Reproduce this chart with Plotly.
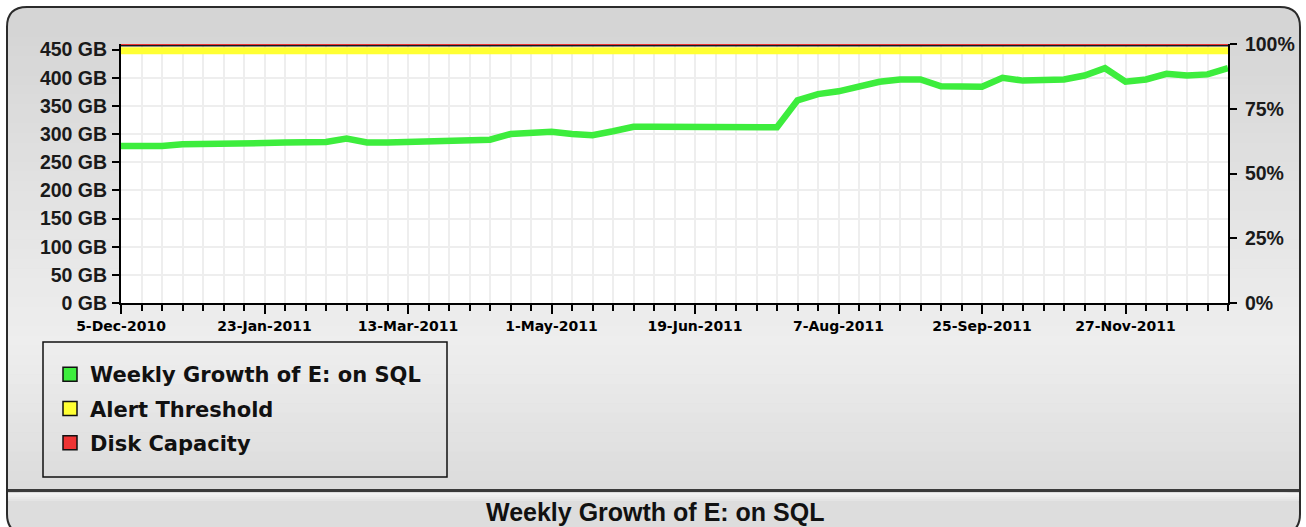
import plotly.graph_objects as go

# ---- data -------------------------------------------------------------
weeks = [
    "5-Dec-2010", "12-Dec-2010", "19-Dec-2010", "26-Dec-2010", "2-Jan-2011",
    "9-Jan-2011", "16-Jan-2011", "23-Jan-2011", "30-Jan-2011", "6-Feb-2011",
    "13-Feb-2011", "20-Feb-2011", "27-Feb-2011", "6-Mar-2011", "13-Mar-2011",
    "20-Mar-2011", "27-Mar-2011", "3-Apr-2011", "10-Apr-2011", "17-Apr-2011",
    "24-Apr-2011", "1-May-2011", "8-May-2011", "15-May-2011", "22-May-2011",
    "29-May-2011", "5-Jun-2011", "12-Jun-2011", "19-Jun-2011", "26-Jun-2011",
    "3-Jul-2011", "10-Jul-2011", "17-Jul-2011", "24-Jul-2011", "31-Jul-2011",
    "7-Aug-2011", "14-Aug-2011", "21-Aug-2011", "28-Aug-2011", "4-Sep-2011",
    "11-Sep-2011", "18-Sep-2011", "25-Sep-2011", "2-Oct-2011", "9-Oct-2011",
    "23-Oct-2011", "30-Oct-2011", "13-Nov-2011", "20-Nov-2011", "27-Nov-2011",
    "4-Dec-2011", "11-Dec-2011", "18-Dec-2011", "25-Dec-2011", "1-Jan-2012",
]

used_gb = [
    279, 279, 279, 282, 282, 283, 283, 284, 285, 285,
    286, 292, 285, 285, 286, 286, 287, 288, 290, 300,
    301, 304, 300, 298, 305, 313, 313, 313, 313, 313,
    312, 312, 312, 360, 371, 376, 384, 393, 397, 397,
    385, 384, 384, 400, 395, 396, 397, 404, 417, 393,
    397, 407, 404, 406, 417,
]

capacity_gb = 460
alert_gb = 448
capacity_pct = [100] * len(weeks)
alert_series = [alert_gb] * len(weeks)

gb_ticks = list(range(0, 451, 50))
pct_ticks = [0, 25, 50, 75, 100]
label_weeks = weeks[::7]

GREEN = "#3ded3d"
YELLOW = "#ffff33"
RED = "#ee3333"

# ---- figure geometry (pixels) ------------------------------------------
FIG_W, FIG_H = 1306, 527
M_L, M_R, M_T, M_B = 121, 78, 44, 224
PW = FIG_W - M_L - M_R
PH = FIG_H - M_T - M_B


def px(x):
    return (x - M_L) / PW


def py(y):
    return 1 - (y - M_T) / PH


def mix(c1, c2, t):
    a = [int(c1[i:i + 2], 16) for i in (1, 3, 5)]
    b = [int(c2[i:i + 2], 16) for i in (1, 3, 5)]
    return "#" + "".join(f"{round(a[k] + (b[k] - a[k]) * t):02x}" for k in range(3))


def rounded_path(x0, y0, x1, y1, r):
    pts = [
        ("M", x0, y0 + r), ("Q", x0, y0, x0 + r, y0), ("L", x1 - r, y0),
        ("Q", x1, y0, x1, y0 + r), ("L", x1, y1 - r), ("Q", x1, y1, x1 - r, y1),
        ("L", x0 + r, y1), ("Q", x0, y1, x0, y1 - r),
    ]
    out = []
    for p in pts:
        cmd, coords = p[0], p[1:]
        xy = []
        for i in range(0, len(coords), 2):
            xy.append(f"{px(coords[i]):.5f},{py(coords[i + 1]):.5f}")
        out.append(cmd + " " + " ".join(xy))
    return " ".join(out) + " Z"


shapes = []
# panel fill
shapes.append(dict(type="path", xref="paper", yref="paper", layer="below",
                   path=rounded_path(7, 7, 1300, 534, 20),
                   fillcolor="#d5d5d5", line=dict(width=0)))
# vertical shading of the panel
stops = [(27, "#d5d5d5"), (300, "#ebebeb"), (345, "#eeeeee"), (490, "#dbdbdb")]
n_bands = 48
y_top, y_bot = 27, 490
for k in range(n_bands):
    ya = y_top + (y_bot - y_top) * k / n_bands
    yb = y_top + (y_bot - y_top) * (k + 1) / n_bands
    ym = (ya + yb) / 2
    for j in range(len(stops) - 1):
        if stops[j][0] <= ym <= stops[j + 1][0]:
            t = (ym - stops[j][0]) / (stops[j + 1][0] - stops[j][0])
            col = mix(stops[j][1], stops[j + 1][1], t)
            break
    shapes.append(dict(type="rect", xref="paper", yref="paper", layer="below",
                       x0=px(8), x1=px(1299), y0=py(ya), y1=py(yb + 0.6),
                       fillcolor=col, line=dict(width=0)))
# title bar
shapes.append(dict(type="path", xref="paper", yref="paper", layer="below",
                   path=rounded_path(8, 492, 1299, 533, 16),
                   fillcolor="#dddddd", line=dict(width=0)))
for k, col in enumerate(["#f2f2f2", "#eeeeee", "#e9e9e9", "#e4e4e4"]):
    shapes.append(dict(type="rect", xref="paper", yref="paper", layer="below",
                       x0=px(8), x1=px(1299), y0=py(493 + 2 * k), y1=py(495 + 2 * k),
                       fillcolor=col, line=dict(width=0)))
# panel outline
shapes.append(dict(type="path", xref="paper", yref="paper", layer="below",
                   path=rounded_path(7, 7, 1300, 534, 20),
                   fillcolor="rgba(0,0,0,0)", line=dict(color="#2b2b2b", width=2)))
# separator above the title bar
shapes.append(dict(type="line", xref="paper", yref="paper", layer="below",
                   x0=px(8), x1=px(1299), y0=py(490.5), y1=py(490.5),
                   line=dict(color="#3a3a3a", width=3)))
# white plotting area
shapes.append(dict(type="rect", xref="paper", yref="paper", layer="below",
                   x0=0, x1=1, y0=0, y1=1, fillcolor="white", line=dict(width=0)))
# legend frame
shapes.append(dict(type="rect", xref="paper", yref="paper", layer="below",
                   x0=px(43), x1=px(447), y0=py(342), y1=py(477),
                   fillcolor="rgba(0,0,0,0)", line=dict(color="#111111", width=1.5)))
# dark edge under the capacity line
shapes.append(dict(type="line", xref="paper", yref="y", layer="above",
                   x0=0, x1=1, y0=capacity_gb - 3, y1=capacity_gb - 3,
                   line=dict(color="#1a1a1a", width=1.5)))

fig = go.Figure()

fig.add_trace(go.Scatter(x=weeks, y=alert_series, mode="lines", yaxis="y",
                         line=dict(color=YELLOW, width=7), showlegend=False,
                         hoverinfo="skip"))
fig.add_trace(go.Scatter(x=weeks, y=used_gb, mode="lines", yaxis="y",
                         line=dict(color=GREEN, width=6.5), showlegend=False,
                         name="Weekly Growth of E: on SQL"))
fig.add_trace(go.Scatter(x=weeks, y=capacity_pct, mode="lines", yaxis="y2",
                         line=dict(color=RED, width=3), cliponaxis=False,
                         showlegend=False, hoverinfo="skip"))

# legend entries (square swatches)
for name, col in [("Weekly Growth of E: on SQL", GREEN),
                  ("Alert Threshold", YELLOW),
                  ("Disk Capacity", RED)]:
    fig.add_trace(go.Scatter(x=[None], y=[None], mode="markers", name=name,
                             legendgroup=name,
                             marker=dict(symbol="square", size=14, color=col,
                                         line=dict(color="#111111", width=1.5))))

fig.update_layout(
    width=FIG_W, height=FIG_H,
    margin=dict(l=M_L, r=M_R, t=M_T, b=M_B),
    paper_bgcolor="white",
    plot_bgcolor="rgba(0,0,0,0)",
    shapes=shapes,
    showlegend=True,
    legend=dict(x=px(50), y=py(354), xanchor="left", yanchor="top",
                bgcolor="rgba(0,0,0,0)", borderwidth=0,
                traceorder="grouped", tracegroupgap=4,
                font=dict(family="DejaVu Sans, sans-serif", size=21,
                          color="#111111", weight="bold")),
    xaxis=dict(
        type="category", categoryorder="array", categoryarray=weeks,
        range=[0, len(weeks) - 1],
        tickmode="array", tickvals=label_weeks, ticktext=label_weeks,
        ticks="outside", ticklen=9, tickwidth=2, tickcolor="black",
        showline=True, linecolor="black", linewidth=2,
        showgrid=True, gridcolor="#eeeeee", gridwidth=1.5,
        minor=dict(dtick=1, ticks="outside", ticklen=6, tickwidth=1.5,
                   tickcolor="black", showgrid=True, gridcolor="#eeeeee",
                   gridwidth=1.5),
        tickangle=0,
        tickfont=dict(family="DejaVu Sans, sans-serif", size=14, color="black",
                      weight="bold"),
        zeroline=False, fixedrange=True,
    ),
    yaxis=dict(
        range=[0, capacity_gb], tickmode="array", tickvals=gb_ticks,
        ticktext=[f"{v} GB" for v in gb_ticks],
        ticks="outside", ticklen=7, tickwidth=1.5, tickcolor="black",
        ticklabelstandoff=1,
        showline=True, linecolor="black", linewidth=2,
        showgrid=True, gridcolor="#eeeeee", gridwidth=1.5, zeroline=False,
        tickfont=dict(family="Liberation Sans, Arial, sans-serif", size=19.5,
                      color="#1a1a1a", weight="bold"),
    ),
    yaxis2=dict(
        overlaying="y", side="right", range=[0, 100],
        tickmode="array", tickvals=pct_ticks,
        ticktext=[f"{v}%" for v in pct_ticks],
        ticks="outside", ticklen=7, tickwidth=1.5, tickcolor="black",
        ticklabelstandoff=4,
        showline=True, linecolor="black", linewidth=2,
        showgrid=False, zeroline=False,
        tickfont=dict(family="Liberation Sans, Arial, sans-serif", size=19.5,
                      color="#1a1a1a", weight="bold"),
    ),
    annotations=[dict(
        xref="paper", yref="paper", x=px(655), y=py(512),
        xanchor="center", yanchor="middle", showarrow=False,
        text="<b>Weekly Growth of E: on SQL</b>",
        font=dict(family="Liberation Sans Narrow, Arial Narrow, Liberation Sans, sans-serif",
                  size=25, color="#111111"),
    )],
)

fig.write_html("out.html")
